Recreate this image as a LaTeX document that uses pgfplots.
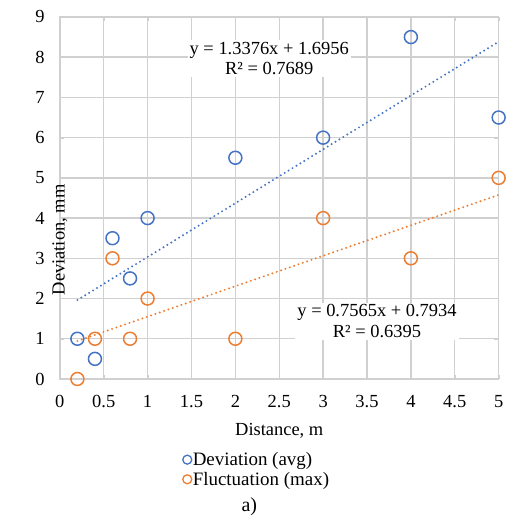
\documentclass[border=0pt]{standalone}
\usepackage{fontspec}
\setmainfont{Liberation Serif}
\usepackage{pgfplots}
\pgfplotsset{compat=1.18}

\definecolor{devblue}{HTML}{4472C4}
\definecolor{flucorange}{HTML}{ED7D31}
\definecolor{gridgray}{HTML}{D0D0D0}

\begin{document}
\begin{tikzpicture}
\begin{axis}[
  scale only axis,
  width=440pt, height=363pt,
  xmin=0, xmax=5, ymin=0, ymax=9,
  xtick={0,0.5,...,5}, ytick={0,1,...,9},
  grid=major,
  major grid style={gridgray, line width=1.4pt},
  axis line style={gridgray, line width=1.4pt},
  tick style={gridgray},
  /pgf/number format/assume math mode=true,
  ticklabel style={font=\fontsize{18.5}{20}\selectfont},
  xticklabel style={anchor=base, inner sep=0pt, yshift=-29pt},
  yticklabel style={anchor=east, inner sep=0pt, xshift=-15pt},
  xlabel={Distance, m},
  ylabel={Deviation, mm},
  label style={font=\fontsize{18.5}{20}\selectfont},
  xlabel style={at={(axis description cs:0.5,0)}, anchor=center, yshift=-52pt},
  ylabel style={at={(axis description cs:0,0.5)}, anchor=center, xshift=-42pt},
  legend style={at={(axis description cs:0.448,-0.25)}, anchor=center,
    draw=none, fill=none, font=\fontsize{19}{21}\selectfont,
    row sep=3pt, nodes={inner sep=1pt}},
  legend cell align=left,
  legend image post style={mark size=4.5pt, line width=1.3pt},
]
% grid lines, drawn under the plots
\pgfplotsinvokeforeach{0,...,10}{
  \draw[gridgray, line width=1.4pt] (rel axis cs:#1/10,0) -- (rel axis cs:#1/10,1);
}
\pgfplotsinvokeforeach{0,...,9}{
  \draw[gridgray, line width=1.4pt] (rel axis cs:0,#1/9) -- (rel axis cs:1,#1/9);
}

% trendlines (endpoints of the fitted lines)
\addplot[forget plot, devblue, line width=2.2pt, line cap=round,
  dash pattern=on 0pt off 4.6pt] coordinates {(0.2,1.9631) (5,8.3836)};
\addplot[forget plot, flucorange, line width=2.2pt, line cap=round,
  dash pattern=on 0pt off 4.6pt] coordinates {(0.2,0.9447) (5,4.5759)};

\addplot[only marks, mark=o, mark size=6.5pt, line width=1.5pt, devblue]
  coordinates {(0.2,1) (0.4,0.5) (0.6,3.5) (0.8,2.5) (1,4) (2,5.5) (3,6) (4,8.5) (5,6.5)};
\addlegendentry{Deviation (avg)}
\addplot[only marks, mark=o, mark size=6.5pt, line width=1.5pt, flucorange]
  coordinates {(0.2,0) (0.4,1) (0.6,3) (0.8,1) (1,2) (2,1) (3,4) (4,3) (5,5)};
\addlegendentry{Fluctuation (max)}

\node[fill=white, align=center, inner sep=2pt, font=\fontsize{18.5}{20.5}\selectfont]
  at (axis cs:2.386,7.96) {y = 1.3376x + 1.6956\\R² = 0.7689};
\node[fill=white, align=center, inner sep=2pt, font=\fontsize{18.5}{20.5}\selectfont]
  at (axis cs:3.614,1.44) {y = 0.7565x + 0.7934\\R² = 0.6395};
\end{axis}
\node[font=\fontsize{20}{22}\selectfont] at (190pt,-128pt) {a)};
\path (-60pt,-139pt) (447pt,380pt);
\end{tikzpicture}
\end{document}
